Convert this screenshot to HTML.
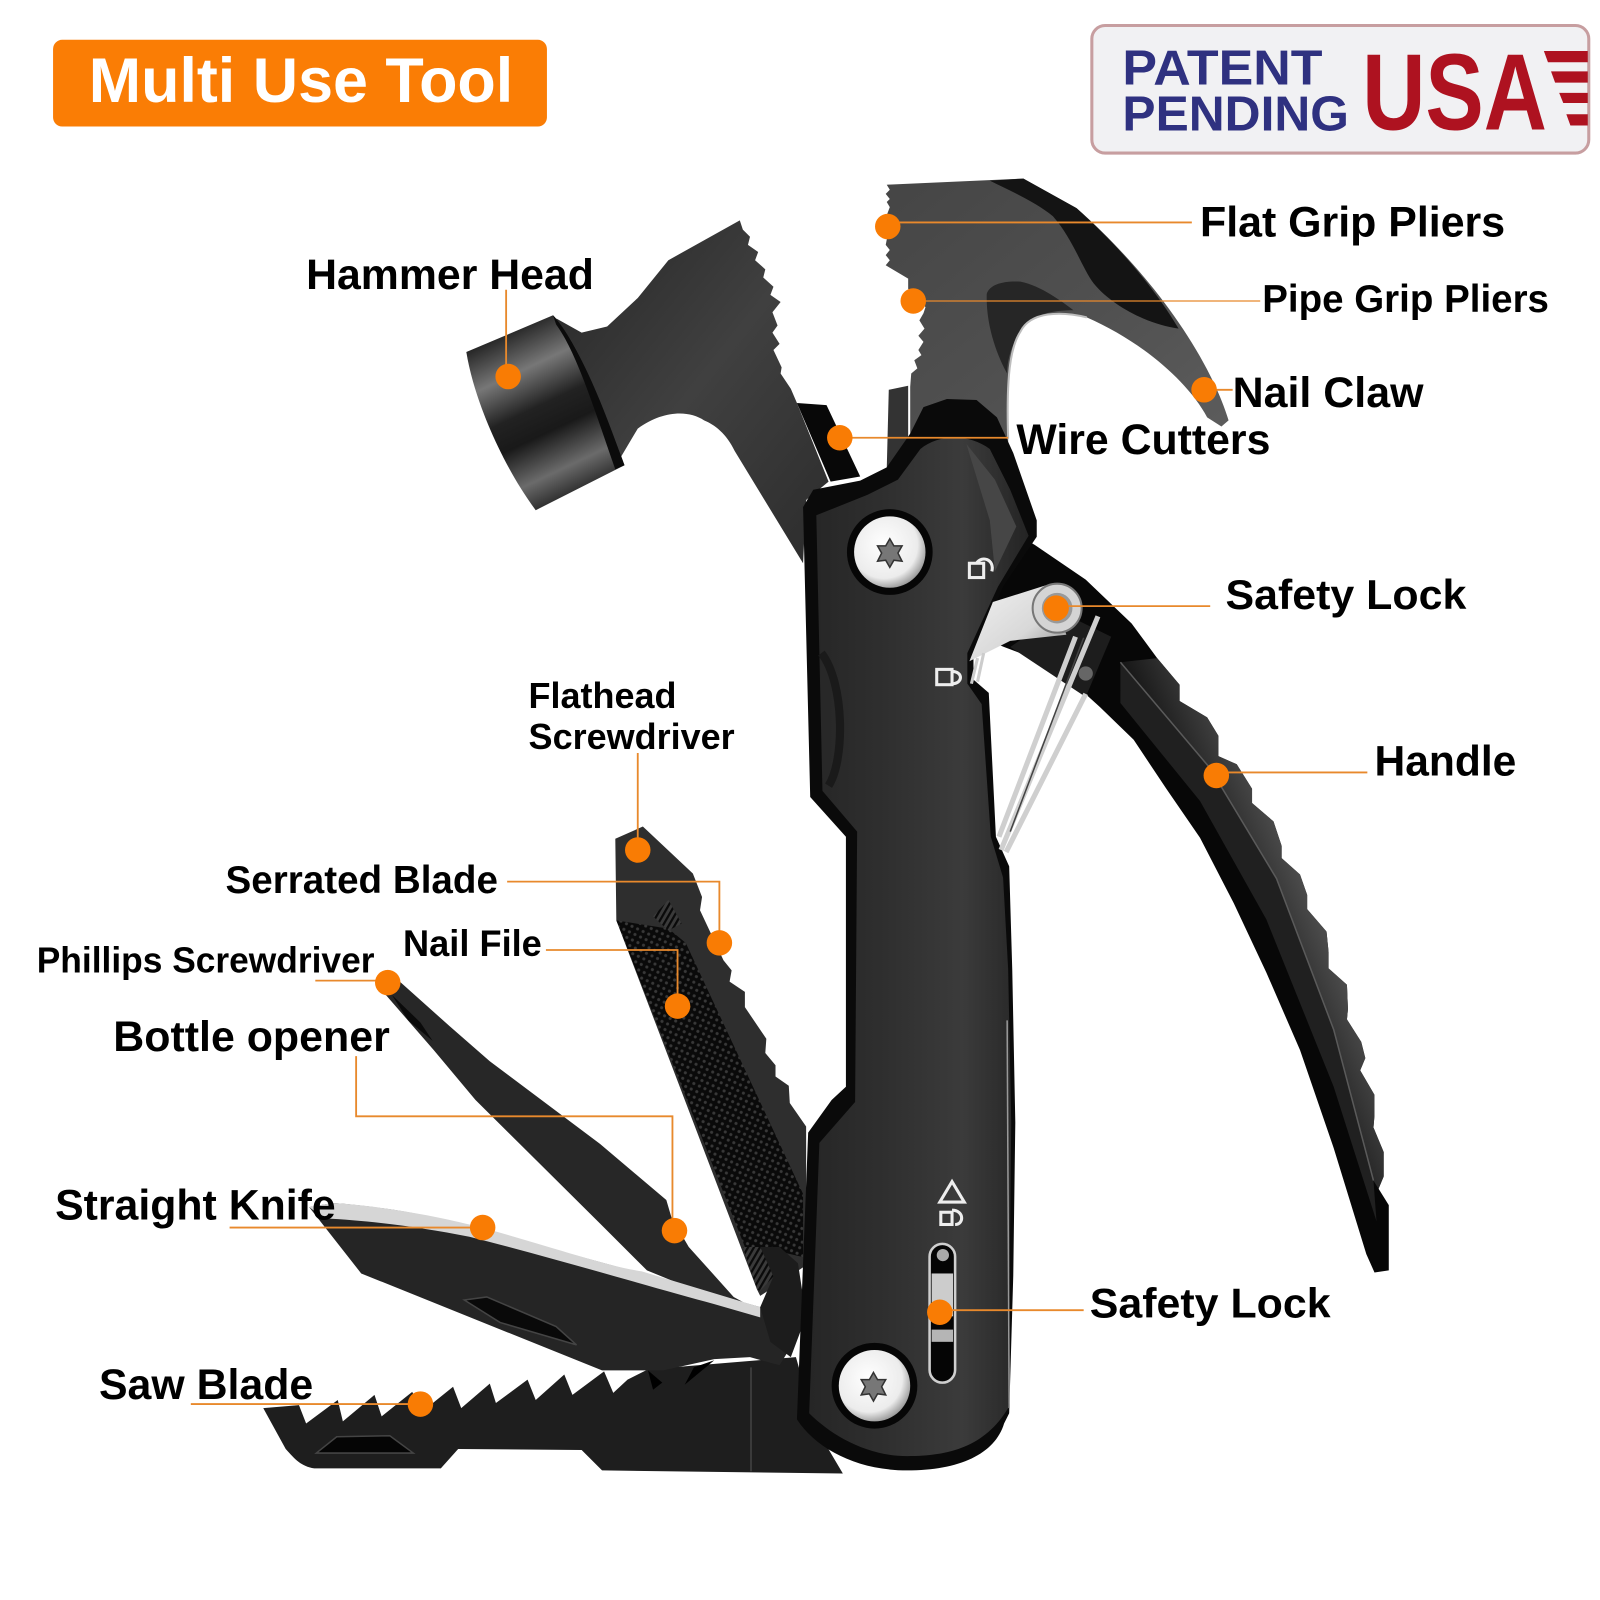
<!DOCTYPE html>
<html><head><meta charset="utf-8"><title>Multi Use Tool</title>
<style>html,body{margin:0;padding:0;background:#fff}svg{display:block}text{font-family:"Liberation Sans",Arial,sans-serif;font-weight:700;fill:#000}</style></head>
<body>
<svg xmlns="http://www.w3.org/2000/svg" width="1600" height="1600" viewBox="0 0 1568 1568">
<defs>
<linearGradient id="body" x1="0" x2="1" y1="0" y2="0"><stop offset="0" stop-color="#262626"/><stop offset=".35" stop-color="#2f2f2f"/><stop offset=".7" stop-color="#3b3b3b"/><stop offset="1" stop-color="#242424"/></linearGradient>
<linearGradient id="cyl" gradientUnits="userSpaceOnUse" x1="490" y1="318" x2="572" y2="492"><stop offset="0" stop-color="#111"/><stop offset=".26" stop-color="#777"/><stop offset=".46" stop-color="#222"/><stop offset=".6" stop-color="#191919"/><stop offset=".8" stop-color="#6b6b6b"/><stop offset="1" stop-color="#131313"/></linearGradient>
<linearGradient id="head" x1="0" y1="0" x2="1" y2="1"><stop offset="0" stop-color="#262626"/><stop offset=".5" stop-color="#404040"/><stop offset="1" stop-color="#2c2c2c"/></linearGradient>
<linearGradient id="jaw" x1="0" y1="0" x2="1" y2="1"><stop offset="0" stop-color="#454545"/><stop offset=".55" stop-color="#505050"/><stop offset="1" stop-color="#5d5d5d"/></linearGradient>
<linearGradient id="steel" x1="0" y1="0" x2="1" y2="1"><stop offset="0" stop-color="#f2f2f2"/><stop offset=".6" stop-color="#d8d8d8"/><stop offset="1" stop-color="#8a8a8a"/></linearGradient>
<radialGradient id="screw" cx=".42" cy=".4" r=".65"><stop offset="0" stop-color="#fff"/><stop offset=".72" stop-color="#ececec"/><stop offset="1" stop-color="#8c8c8c"/></radialGradient>
<linearGradient id="scal" gradientUnits="userSpaceOnUse" x1="1290" y1="900" x2="1220" y2="930"><stop offset="0" stop-color="#4a4a4a"/><stop offset="1" stop-color="#171717"/></linearGradient>
<pattern id="file" width="6" height="6" patternUnits="userSpaceOnUse" patternTransform="rotate(25)"><rect width="6" height="6" fill="#0a0a0a"/><circle cx="3" cy="3" r="1.5" fill="#383838"/></pattern>
<pattern id="hatch" width="5" height="5" patternUnits="userSpaceOnUse" patternTransform="rotate(30)"><rect width="5" height="5" fill="#3a3a3a"/><rect width="2.2" height="5" fill="#0a0a0a"/></pattern>
</defs>
<rect width="1568" height="1568" fill="#fff"/>

<!-- title -->
<rect x="52" y="39" width="484" height="85" rx="9" fill="#fa7d05"/>
<text x="87" y="100" font-size="62" textLength="416" lengthAdjust="spacingAndGlyphs" style="fill:#fff">Multi Use Tool</text>

<!-- patent badge -->
<rect x="1070" y="25" width="487" height="125" rx="13" fill="#f1f1f3" stroke="#c79ea0" stroke-width="3"/>
<text x="1100" y="83" font-size="48" textLength="196" lengthAdjust="spacingAndGlyphs" style="fill:#2f3180">PATENT</text>
<text x="1100" y="128" font-size="48" textLength="222" lengthAdjust="spacingAndGlyphs" style="fill:#2f3180">PENDING</text>
<text x="1335" y="127" font-size="106" textLength="181" lengthAdjust="spacingAndGlyphs" style="fill:#ae1220">USA</text>
<g fill="#ae1220"><polygon points="1513,50 1556,50 1556,61 1517,61"/><polygon points="1520,70 1556,70 1556,81 1524,81"/><polygon points="1528,91 1556,91 1556,101 1532,101"/><polygon points="1535,112 1556,112 1556,123 1539,123"/></g>

<!-- flathead / serrated / file tool -->
<path d="M603 822 L630 810 L679 856 L688 879 L686 892 L709 941 L717 951 L715 962 L730 972 L730 987 L751 1018 L750 1032 L760 1044 L760 1055 L773 1064 L774 1081 L790 1104 L790 1240 L745 1270 L742 1264 L604 902Z" fill="#2e2e2e"/>
<path d="M604 902 L655 910 L672 924 L787 1170 L787 1232 L745 1222 L730 1222Z" fill="url(#file)"/>
<path d="M640 898 L655 882 L668 905 L655 912Z" fill="url(#hatch)"/>
<path d="M728 1222 L748 1222 L758 1251 L745 1265 L742 1264Z" fill="url(#hatch)"/>
<!-- bottle opener / phillips -->
<path d="M372 968 L384 955 L441 1006 L480 1040 L588 1121 L653 1176 L658 1193 L675 1222 L719 1271 L728 1276 L700 1272 L634 1245 L588 1199 L466 1078 L425 1029Z" fill="#272727"/>
<path d="M384 975 L412 1002 L424 1020 L400 1000Z" fill="#0a0a0a"/>

<!-- saw blade -->
<path d="M258 1380 L293 1377 L300 1395 L331 1372 L336 1393 L367 1367 L374 1388 L404 1364 L413 1384 L444 1359 L452 1380 L480 1356 L486 1375 L517 1352 L525 1372 L553 1347 L561 1367 L592 1344 L601 1365 L615 1352 L635 1342 L780 1330 L800 1400 L826 1444 L590 1441 L570 1421 L449 1420 L432 1439 L308 1439 C295 1437 289 1430 280 1420 Z" fill="#1e1e1e"/>
<path d="M330 1408 L382 1407 L405 1424 L310 1424Z" fill="#050505" stroke="#444" stroke-width="1.5"/>
<path d="M736 1340 L736 1442" stroke="#3a3a3a" stroke-width="2"/>
<path d="M635 1343 L649 1355 L640 1362Z M671 1357 L700 1333 L680 1340Z" fill="#000"/>

<!-- knife -->
<path d="M303 1183 L326 1179 C370 1182 420 1190 460 1202 L629 1248 L745 1281 L781 1310 L764 1338 L735 1330 L700 1332 L650 1343 L590 1343 L354 1248Z" fill="#252525"/>
<path d="M303 1183 L326 1179 C365 1181 420 1190 460 1200 C520 1215 590 1240 629 1246 L745 1281 L745 1291 L700 1278 C640 1262 540 1232 460 1212 C410 1202 360 1196 318 1194Z" fill="#d6d6d6"/>
<path d="M455 1274 L477 1271 L545 1300 L565 1318 L490 1296Z" fill="#090909" stroke="#444" stroke-width="1.5"/>
<!-- pivot -->
<path d="M745 1222 L764 1222 L782 1238 L790 1290 L775 1330 L755 1315 L745 1281 L758 1251Z" fill="#1c1c1c"/>

<!-- lever handle -->
<path d="M1014 534 L1064 568 L1109 611 L1134 645 L1156 671 L1156 687 L1183 703 L1194 721 L1194 741 L1212 749 L1227 773 L1227 787 L1248 805 L1256 829 L1256 841 L1274 857 L1281 877 L1281 891 L1300 913 L1302 933 L1302 949 L1320 965 L1321 989 L1320 999 L1334 1021 L1338 1037 L1333 1049 L1347 1073 L1347 1093 L1346 1105 L1356 1129 L1356 1153 L1351 1165 L1361 1181 L1361 1245 L1347 1247 L1339 1229 L1307 1125 L1274 1029 L1241 953 L1209 885 L1176 821 L1143 773 L1111 725 L1078 693 L1034 653 L984 634 L950 620 L990 520Z" fill="#070707"/>
<path d="M1098 649 L1186 753 L1251 861 L1307 1009 L1346 1157 L1349 1197 L1307 1065 L1241 901 L1176 785 L1098 689Z" fill="#202020"/>
<path d="M1134 645 L1156 671 L1156 687 L1183 703 L1194 721 L1194 741 L1212 749 L1227 773 L1227 787 L1248 805 L1256 829 L1256 841 L1274 857 L1281 877 L1281 891 L1300 913 L1302 933 L1302 949 L1320 965 L1321 989 L1320 999 L1334 1021 L1338 1037 L1333 1049 L1347 1073 L1347 1093 L1346 1105 L1356 1129 L1356 1153 L1351 1165 L1361 1181 L1346 1157 L1307 1009 L1251 861 L1186 753 L1098 649Z" fill="url(#scal)"/>
<path d="M1098 649 L1186 753 L1251 861 L1307 1009 L1346 1157" fill="none" stroke="#5a5a5a" stroke-width="1.5"/>
<path d="M1040 600 L1089 624 L1064 683 L990 634Z" fill="#1d1d1d"/>

<!-- hammer body -->
<path d="M545 312 L570 326 L595 320 L625 292 L655 255 L725 216 L728 225 L735 232 L733 240 L743 247 L740 255 L750 264 L748 272 L758 281 L755 289 L765 296 L757 306 L762 319 L757 326 L764 337 L758 343 L766 360 L765 366 L775 381 L781 395 L812 472 L790 490 L787 552 L720 442 C712 425 700 416 690 412 C675 402 650 402 625 420 L606 452 L582 390Z" fill="url(#head)"/>
<path d="M781 395 L810 397 L843 467 L814 472Z" fill="#080808"/>
<!-- hammer cylinder -->
<path d="M457 345 L542 309 C566 335 590 395 612 456 L525 500 C495 460 465 395 457 345Z" fill="url(#cyl)"/>
<path d="M542 309 C566 335 590 395 612 456 L603 460 C582 400 565 345 545 318Z" fill="#0b0b0b"/>

<!-- pliers jaw -->
<path d="M871 382 L890 378 L890 460 L869 460Z" fill="#333"/>
<path d="M869 181 L872 186 L868 190 L872 195 L869 198 L872 203 L869 211 L869 235 L868 240 L872 245 L868 250 L872 255 L868 260 L890 273 L890 283 L907 301 L905 307 L901 314 L906 322 L900 329 L905 335 L900 343 L903 348 L896 353 L899 361 L893 366 L892 379 L892 440 L988 440 L988 418 C986 370 990 340 1000 325 C1010 305 1040 305 1065 311 C1120 335 1165 375 1183 409 L1197 418 L1204 412 C1185 350 1130 270 1055 204 L1003 175 Z" fill="url(#jaw)"/>
<path d="M970 177 L1003 175 L1055 204 C1095 240 1130 280 1155 322 C1125 318 1090 300 1072 278 C1060 262 1052 235 1032 212 C1015 198 990 187 970 177Z" fill="#141414"/>
<path d="M967 288 C970 278 985 275 1000 276 C1020 280 1040 295 1052 304 C1030 304 1010 308 1000 325 C990 340 987 355 987 366 C978 350 966 320 967 288Z" fill="#262626"/>
<path d="M988 430 C986 370 990 340 1000 325 C1010 305 1040 305 1065 311" fill="none" stroke="#bdbdbd" stroke-width="2"/>

<!-- main grip -->
<path id="grip" d="M787 497 L797 480 L843 471 L869 458 L892 425 L905 399 L928 391 L957 392 L977 409 L993 444 L1016 510 L1016 526 L983 575 L954 644 L954 666 L969 679 L976 820 L989 849 L992 950 L995 1100 L993 1250 L989 1385 L984 1395 C975 1425 940 1441 889 1441 C840 1441 800 1420 781 1391 L792 1110 L815 1078 L829 1065 L829 820 L794 781Z" fill="#0a0a0a"/>
<path d="M800 505 L850 485 L880 470 L902 440 C920 425 950 425 970 440 L990 480 L1008 525 L978 575 L948 640 L948 670 L962 690 L971 820 L983 860 L988 950 L991 1100 L988 1380 C965 1418 930 1427 889 1427 C850 1427 815 1407 793 1385 L803 1120 L838 1080 L840 815 L806 775Z" fill="url(#body)"/>
<path d="M947 435 L975 470 L996 516 L975 560 L970 510Z" fill="#464646"/>
<path d="M805 640 C828 670 828 745 812 770" fill="none" stroke="#1a1a1a" stroke-width="8"/>
<path d="M987 1000 L989 1380" stroke="#999" stroke-width="1.5"/>

<!-- wire loop & safety lock -->
<path d="M1076 604 L981 833 M1054 624 L979 820 M1064 680 L986 835" fill="none" stroke="#cfcfcf" stroke-width="5"/>
<path d="M1062 625 L990 815" fill="none" stroke="#444" stroke-width="1.5"/>
<path d="M973 590 L1030 572 L1045 622 L990 628 L950 648Z" fill="url(#steel)"/>
<circle cx="1036" cy="596" r="24" fill="#d4d4d4" stroke="#777" stroke-width="2"/>
<circle cx="1036" cy="596" r="15" fill="#999"/>
<circle cx="1064" cy="660" r="7" fill="#666"/>
<path d="M958 645 L952 670 M964 640 L958 668" stroke="#ccc" stroke-width="3"/>

<!-- lock icons -->
<g fill="none" stroke="#eee" stroke-width="3">
<rect x="950" y="552" width="14" height="14"/><path d="M957 552 C962 544 975 548 972 560"/>
<rect x="918" y="656" width="15" height="15"/><path d="M933 658 C944 658 944 670 933 670"/>
<polygon points="933,1158 945,1178 921,1178"/>
<rect x="922" y="1188" width="11" height="12"/><path d="M933 1186 C945 1186 945 1200 936 1200"/>
</g>

<!-- slide -->
<rect x="911" y="1219" width="25" height="136" rx="12.5" fill="#050505" stroke="#cfcfcf" stroke-width="2.5"/>
<rect x="913" y="1248" width="21" height="42" fill="#cccccc"/>
<rect x="913" y="1303" width="21" height="12" fill="#b5b5b5"/>
<circle cx="924" cy="1230" r="6" fill="#aaa"/>

<!-- screws -->
<circle cx="872" cy="541" r="42" fill="#060606"/>
<circle cx="872" cy="541" r="35" fill="url(#screw)"/>
<polygon points="872,528 876,535 884,535 880,542 884,550 876,549 872,556 868,549 860,550 864,542 860,535 868,535" fill="#777" stroke="#333" stroke-width="1.5"/>
<circle cx="857" cy="1358" r="42" fill="#060606"/>
<circle cx="857" cy="1358" r="35" fill="url(#screw)"/>
<polygon points="856,1345 860,1352 868,1352 864,1359 868,1367 860,1366 856,1373 852,1366 844,1367 848,1359 844,1352 852,1352" fill="#777" stroke="#333" stroke-width="1.5"/>

<!-- leaders -->
<g fill="none" stroke="#e8892c" stroke-width="1.8">
<path d="M870 218H1168"/><path d="M895 295H1235" stroke-width="1.3"/><path d="M1180 382H1208"/><path d="M823 429H988"/>
<path d="M496 284V369"/><path d="M1035 594H1186"/><path d="M1192 757H1340"/><path d="M625 738V833"/>
<path d="M497 864H705V924"/><path d="M535 931H664V986"/><path d="M309 961H380"/><path d="M349 1035V1094H659V1206"/>
<path d="M225 1203H473"/><path d="M187 1376H412"/><path d="M921 1284H1062"/>
</g>
<g fill="#f97c04">
<circle cx="870" cy="222" r="12.5"/><circle cx="895" cy="295" r="12.5"/><circle cx="1180" cy="382" r="12.5"/><circle cx="823" cy="429" r="12.5"/><circle cx="498" cy="369" r="12.5"/><circle cx="1035" cy="596" r="12.5"/><circle cx="1192" cy="760" r="12.5"/><circle cx="625" cy="833" r="12.5"/><circle cx="705" cy="924" r="12.5"/><circle cx="664" cy="986" r="12.5"/><circle cx="380" cy="963" r="12.5"/><circle cx="661" cy="1206" r="12.5"/><circle cx="473" cy="1203" r="12.5"/><circle cx="412" cy="1376" r="12.5"/><circle cx="921" cy="1286" r="12.5"/>
</g>

<!-- labels -->
<text x="300" y="283" font-size="42" textLength="282" lengthAdjust="spacingAndGlyphs">Hammer Head</text>
<text x="1176" y="232" font-size="42" textLength="299" lengthAdjust="spacingAndGlyphs">Flat Grip Pliers</text>
<text x="1237" y="306" font-size="38" textLength="281" lengthAdjust="spacingAndGlyphs">Pipe Grip Pliers</text>
<text x="1208" y="399" font-size="42" textLength="187" lengthAdjust="spacingAndGlyphs">Nail Claw</text>
<text x="996" y="445" font-size="42" textLength="249" lengthAdjust="spacingAndGlyphs">Wire Cutters</text>
<text x="1201" y="597" font-size="41" textLength="236" lengthAdjust="spacingAndGlyphs">Safety Lock</text>
<text x="1347" y="760" font-size="42" textLength="139" lengthAdjust="spacingAndGlyphs">Handle</text>
<text x="518" y="694" font-size="35" textLength="145" lengthAdjust="spacingAndGlyphs">Flathead</text>
<text x="518" y="734" font-size="35" textLength="202" lengthAdjust="spacingAndGlyphs">Screwdriver</text>
<text x="221" y="875" font-size="38" textLength="267" lengthAdjust="spacingAndGlyphs">Serrated Blade</text>
<text x="395" y="937" font-size="36" textLength="136" lengthAdjust="spacingAndGlyphs">Nail File</text>
<text x="36" y="953" font-size="35" textLength="331" lengthAdjust="spacingAndGlyphs">Phillips Screwdriver</text>
<text x="111" y="1030" font-size="42" textLength="271" lengthAdjust="spacingAndGlyphs">Bottle opener</text>
<text x="54" y="1195" font-size="42" textLength="275" lengthAdjust="spacingAndGlyphs">Straight Knife</text>
<text x="97" y="1371" font-size="42" textLength="210" lengthAdjust="spacingAndGlyphs">Saw Blade</text>
<text x="1068" y="1291" font-size="41" textLength="236" lengthAdjust="spacingAndGlyphs">Safety Lock</text>
</svg>
</body></html>
